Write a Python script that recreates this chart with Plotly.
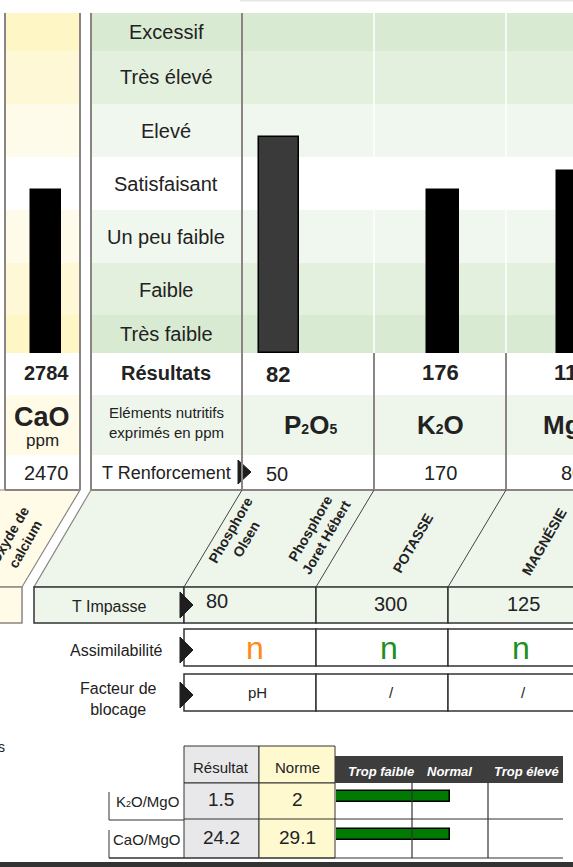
import plotly.graph_objects as go

# ---- données ----
niveaux = ["Très faible", "Faible", "Un peu faible", "Satisfaisant", "Elevé", "Très élevé", "Excessif"]
bornes_niveaux = [0, 38, 90, 143, 196, 249, 302, 340]
elements = ["CaO", "P2O5", "K2O", "MgO"]
indice_barre = [163, 216, 163, 182]
resultats = ["2784", "82", "176", "118"]
t_renforcement = ["2470", "50", "170", "80"]
noms_colonnes = ["Oxyde de<br>calcium", "Phosphore<br>Olsen", "Phosphore<br>Joret Hébert", "POTASSE", "MAGNÉSIE"]
t_impasse = ["80", "300", "125"]
assimilabilite = ["n", "n", "n"]
facteur_blocage = ["pH", "/", "/"]
ratios = ["K2O/MgO", "CaO/MgO"]
ratio_resultat = ["1.5", "24.2"]
ratio_norme = ["2", "29.1"]
ratio_position = [1.5, 1.5]
classes_ratio = ["Trop faible", "Normal", "Trop élevé"]

# ---- mise en page (pixels) ----
W, H = 573, 867
FONT = "Liberation Sans, Arial, sans-serif"
VERT = ["#d9ead3", "#e4f0de", "#f0f7ef", "#ffffff", "#f0f7ef", "#e4f0de", "#d9ead3"]
JAUNE = ["#fff6c6", "#fff8d6", "#fffbea", "#ffffff", "#fffbea", "#fff8d6", "#fff6c6"]
col_x = [46, 279, 443, 573]
col_w = [30, 40, 32, 32]
col_couleur = ["black", "#3a3a3a", "black", "black"]
GRIS = "#8a8584"
FONCE = "#333333"

shapes = []
ann = []


def petit(s, size):
    return f"<span style='font-size:{size}px'>{s}</span>"


def rect(x0, y0, x1, y1, fill, line=None, lw=1.5, yref="y", layer="below"):
    shapes.append(dict(type="rect", xref="x", yref=yref, x0=x0, y0=y0, x1=x1, y1=y1,
                       fillcolor=fill, line=dict(color=line or fill, width=lw if line else 0),
                       layer=layer))


def seg(x0, y0, x1, y1, color=GRIS, lw=2, layer="above"):
    shapes.append(dict(type="line", xref="x", yref="y", x0=x0, y0=y0, x1=x1, y1=y1,
                       line=dict(color=color, width=lw), layer=layer))


def poly(pts, fill, line, lw=1.2):
    p = "M " + " L ".join(f"{x} {y}" for x, y in pts) + " Z"
    shapes.append(dict(type="path", xref="x", yref="y", path=p, fillcolor=fill,
                       line=dict(color=line, width=lw), layer="below"))


def tri(x, y, h=26):
    poly([(x, y - h / 2), (x + 13, y), (x, y + h / 2)], "#1e1e1e", "#1e1e1e", 1)


def txt(x, y, s, size=16, bold=False, color="#222", anchor="center", angle=0, italic=False):
    if bold:
        s = f"<b>{s}</b>"
    if italic:
        s = f"<i>{s}</i>"
    ann.append(dict(x=x, y=y, xref="x", yref="y", text=s, showarrow=False, xanchor=anchor,
                    yanchor="middle", textangle=angle,
                    font=dict(family=FONT, size=size, color=color)))


# bandes des niveaux (axe y2)
for i in range(len(niveaux)):
    y0, y1 = bornes_niveaux[i], bornes_niveaux[i + 1]
    rect(5, y0, 80, y1, JAUNE[i], yref="y2")
    rect(91, y0, 242, y1, VERT[i], yref="y2")
    rect(242, y0, 640, y1, VERT[i], yref="y2")
for xs in (374, 506):
    shapes.append(dict(type="line", xref="x", yref="y2", x0=xs, x1=xs, y0=0, y1=340,
                       line=dict(color="white", width=1.5), layer="below"))

# libellés des niveaux
centres = [334, 290, 237, 184, 131, 77, 32]
for lab, yc in zip(niveaux, centres):
    txt(166, yc, lab, 20)

# lignes de résultats
rect(5, 395, 80, 455, "#fffbe6")
rect(91, 395, 242, 455, "#eef6ec")
rect(242, 395, 640, 455, "#eef6ec")
txt(46, 373, resultats[0], 20, bold=True)
txt(166, 373, "Résultats", 20, bold=True)
txt(264, 374, resultats[1], 22, bold=True, anchor="left")
txt(440, 372, resultats[2], 22, bold=True)
txt(572, 372, resultats[3], 22, bold=True)

txt(42, 417, "<b>CaO</b>", 27)
txt(42, 440, "ppm", 17)
txt(166, 422, "Eléments nutritifs<br>exprimés en ppm", 15)
txt(310, 425, "<b>P" + petit("2", 14) + "O" + petit("5", 14) + "</b>", 26)
txt(440, 425, "<b>K" + petit("2", 14) + "O</b>", 26)
txt(572, 425, "<b>MgO</b>", 26)

txt(46, 473, t_renforcement[0], 20)
txt(166, 473, "T Renforcement", 18)
tri(238, 472, 24)
txt(264, 474, t_renforcement[1], 20, anchor="left")
txt(440, 473, t_renforcement[2], 20)
txt(572, 473, t_renforcement[3], 20)

# cadres verticaux
for xv in (5, 80, 91, 242):
    seg(xv, 13, xv, 490)
for xv in (374, 506):
    seg(xv, 353, xv, 490)
seg(5, 490, 80, 490)
seg(91, 490, 573, 490)
seg(240, 0.5, 573, 0.5, "#e6e6e6", 2)

# en-têtes obliques
poly([(-60, 490), (80, 490), (22, 587), (-118, 587)], "#fffbe6", GRIS)
poly([(91, 490), (640, 490), (582, 587), (34, 587)], "#eef6ec", GRIS)
for xt in (242, 374, 506):
    seg(xt, 490, xt - 58, 587, "#444", 1)
txt(17, 540, noms_colonnes[0], 14, bold=True, angle=-60)
txt(238, 535, noms_colonnes[1], 14, bold=True, angle=-60)
txt(318, 533, noms_colonnes[2], 14, bold=True, angle=-60)
txt(413, 543, noms_colonnes[3], 14, bold=True, angle=-60)
txt(544, 542, noms_colonnes[4], 14, bold=True, angle=-60)

# T impasse
rect(-5, 587, 22, 623, "#fffbe6", GRIS)
rect(34, 587, 184, 623, "#eef6ec", FONCE)
for x0 in (184, 316, 448):
    rect(x0, 587, x0 + 132, 623, "#eef6ec", FONCE)
txt(109, 606, "T Impasse", 16)
tri(180, 605)
txt(204, 601, t_impasse[0], 20, anchor="left")
txt(390, 604, t_impasse[1], 20)
txt(523, 604, t_impasse[2], 20)

# assimilabilité / facteur de blocage
coul_assim = ["#ff8a1c", "#1f8f1f", "#1f8f1f"]
for i, x0 in enumerate((184, 316, 448)):
    rect(x0, 629, x0 + 132, 666, "white", FONCE)
    rect(x0, 674, x0 + 132, 711, "white", FONCE)
txt(165, 650, "Assimilabilité", 16, anchor="right")
tri(180, 650)
txt(118, 699, "Facteur de<br>blocage", 16)
tri(180, 695)
for i, xc in enumerate((255, 389, 521)):
    txt(xc, 648, assimilabilite[i], 32, color=coul_assim[i])
    txt(xc + 2, 692, facteur_blocage[i], 15)

# tableau des ratios
txt(7, 747, "s", 14, anchor="right")
rect(184, 746, 259, 783, "#e8e8ea", FONCE, 1)
rect(259, 746, 335, 783, "#fff9d0", FONCE, 1)
rect(184, 783, 259, 858, "#e8e8ea", FONCE, 1)
rect(259, 783, 335, 858, "#fff9d0", FONCE, 1)
seg(184, 819, 335, 819, FONCE, 1)
txt(221, 767, "Résultat", 15)
txt(297, 767, "Norme", 15)
rect(335, 756, 563, 783, "#3d3d3d")
for xc, lab in zip((381, 449, 526), classes_ratio):
    txt(xc, 771, lab, 13, bold=True, italic=True, color="white")
seg(412, 783, 412, 858, FONCE, 1.2)
seg(488, 783, 488, 858, FONCE, 1.2)
seg(335, 819, 563, 819, FONCE, 1.2)
seg(109, 858, 563, 858, FONCE, 1.2)
ratios_lib = ["K" + petit("2", 9) + "O/MgO", "CaO/MgO"]
for i, yc in enumerate((801, 839)):
    seg(109, yc - 9, 109, yc + 19, FONCE, 1)
    seg(109, yc + 19, 184, yc + 19, FONCE, 1)
    txt(147, yc, ratios_lib[i], 15)
    txt(221, yc - 2, ratio_resultat[i], 19)
    txt(297, yc - 2, ratio_norme[i], 19)
rect(0, 862, 573, 867, "#333333")

fig = go.Figure()
for i, el in enumerate(elements):
    fig.add_trace(go.Bar(x=[col_x[i]], y=[indice_barre[i]], width=[col_w[i]], name=el,
                         marker=dict(color=col_couleur[i], line=dict(color="black", width=1.5)),
                         xaxis="x", yaxis="y2", hoverinfo="skip"))
fig.add_trace(go.Bar(x=ratio_position, y=ratios, orientation="h", width=0.29,
                     marker=dict(color="#007a00", line=dict(color="black", width=1.5)),
                     xaxis="x2", yaxis="y3", hoverinfo="skip"))

fig.update_layout(
    width=W, height=H, margin=dict(l=0, r=0, t=0, b=0),
    paper_bgcolor="white", plot_bgcolor="rgba(0,0,0,0)", showlegend=False,
    xaxis=dict(range=[0, W], domain=[0, 1], visible=False, fixedrange=True),
    yaxis=dict(range=[H, 0], domain=[0, 1], visible=False, fixedrange=True),
    yaxis2=dict(range=[0, 340], domain=[1 - 353 / H, 1 - 13 / H], anchor="x",
                visible=False, fixedrange=True),
    xaxis2=dict(range=[0, 3], domain=[336 / W, 563 / W], anchor="y3", visible=False),
    yaxis3=dict(type="category", categoryarray=ratios, range=[1.619, -0.355],
                domain=[1 - 858 / H, 1 - 783 / H], anchor="x2", visible=False),
    shapes=shapes, annotations=ann, bargap=0,
)

fig.write_html("out.html", config={"displayModeBar": False},
               post_script="document.body.style.margin='0';document.body.style.overflow='hidden';")
